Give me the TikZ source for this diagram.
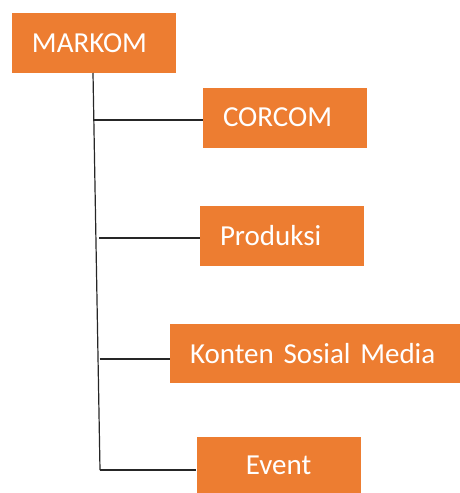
\documentclass[tikz,border=0pt]{standalone}
\usepackage{fontspec}
\setmainfont{Carlito}
\usetikzlibrary{positioning}
\definecolor{markomorange}{HTML}{ED7D31}

\begin{document}
\begin{tikzpicture}[x=0.5pt,y=-0.5pt,
  unitbox/.style={rectangle,fill=markomorange,text=white,inner xsep=10pt,inner ysep=0pt,
    minimum height=30pt,text width=62pt,align=left,font=\fontsize{14.5}{17}\selectfont},
  orgline/.style={draw=black!85,line width=0.6pt}]
\useasboundingbox (0,0) rectangle (460,493);

% top unit
\node[unitbox] (markom) at (94,43) {MARKOM};

% sub units
\node[unitbox] (corcom) at (285,117.5) {CORCOM};
\node[unitbox] (produksi) at (282,236) {Produksi};
\node[unitbox,text width=125pt,minimum height=29.5pt] (konten) at (315,353.5) {Konten Sosial Media};
\node[unitbox,align=center,minimum height=28pt] (event) at (278.5,465) {Event};

% trunk
\coordinate (t0) at (93,73);
\coordinate (t1) at (93,120);
\coordinate (t2) at (99,238);
\coordinate (t3) at (99.5,359);
\coordinate (t4) at (100,470);

\draw[orgline] (t0) -- (t4);
\draw[orgline] (t1) -- (t1 -| corcom.west);
\draw[orgline] (t2) -- (t2 -| produksi.west);
\draw[orgline] (t3) -- (t3 -| konten.west);
\draw[orgline] (t4) -- (t4 -| event.west);

\end{tikzpicture}
\end{document}
